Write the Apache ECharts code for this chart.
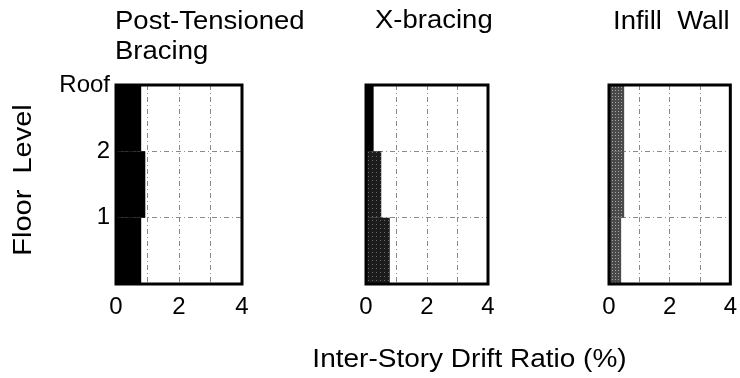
<!DOCTYPE html>
<html>
<head>
<meta charset="utf-8">
<script src="https://cdn.jsdelivr.net/npm/echarts@6/dist/echarts.min.js"></script>
<style>
  html, body { margin: 0; padding: 0; background: #fff; }
  #chart { width: 740px; height: 378px; }
</style>
</head>
<body>
<div id="chart"></div>
<script>
// Stories, bottom to top (each bar spans one storey between floor levels)
const stories = ['1st', '2nd', '3rd'];
// Floor-level tick labels on the vertical axis (value 0..3)
const floorLabels = { 1: '1', 2: '2', 3: 'Roof' };
// Drift-ratio tick labels shown on the horizontal axes
const driftTicks = [0, 2, 4];

// Peak inter-story drift ratio (%) per storey
const postTensioned = [0.80, 0.93, 0.80];
const xBracing = [0.78, 0.50, 0.25];
const infillWall = [0.40, 0.50, 0.50];

const panelTitles = [['Post-Tensioned', 'Bracing'], ['X-bracing'], ['Infill  Wall']];

const FONT = '"Liberation Sans", Arial, Helvetica, sans-serif';

const grids = [
  { left: 116, width: 126 },
  { left: 366, width: 122 },
  { left: 609, width: 122 }
].map(g => ({
  left: g.left, width: g.width, top: 85, height: 199,
  show: true, z: 3, borderColor: '#000', borderWidth: 3, backgroundColor: 'transparent'
}));

const gridLine = { show: true, lineStyle: { color: '#8a8a8a', width: 1, type: [5, 3, 1, 3] } };

const xAxes = grids.map((g, i) => ({
  type: 'value', gridIndex: i, min: 0, max: 4, interval: 1,
  axisLine: { show: false }, axisTick: { show: false },
  splitLine: gridLine,
  axisLabel: {
    margin: 11, fontSize: 24, fontFamily: FONT, color: '#000',
    formatter: v => (driftTicks.indexOf(v) >= 0 ? String(v) : '')
  }
}));

const yAxes = [];
grids.forEach((g, i) => {
  // floor-level value axis (split lines + labels)
  yAxes.push({
    type: 'value', gridIndex: i, min: 0, max: 3, interval: 1,
    axisLine: { show: false }, axisTick: { show: false },
    splitLine: gridLine,
    axisLabel: {
      show: i === 0, margin: 6, fontSize: 24, fontFamily: FONT, color: '#000',
      formatter: v => floorLabels[v] || ''
    }
  });
  // storey category axis used by the bars
  yAxes.push({
    type: 'category', gridIndex: i, data: stories, boundaryGap: true,
    axisLine: { show: false }, axisTick: { show: false },
    axisLabel: { show: false }, splitLine: { show: false }
  });
});

const stipple = (base, dot, gap) => ({
  color: base,
  decal: { symbol: 'rect', symbolSize: 1, color: dot, dashArrayX: [1, gap], dashArrayY: [1, gap], rotation: 0 }
});

const series = [
  {
    type: 'bar', xAxisIndex: 0, yAxisIndex: 1, barCategoryGap: '0%', z: 2,
    data: postTensioned, itemStyle: { color: '#000' }, silent: true
  },
  {
    type: 'bar', xAxisIndex: 1, yAxisIndex: 3, barCategoryGap: '0%', z: 2, silent: true,
    data: xBracing.map((v, k) => ({
      value: v,
      itemStyle: k === 2 ? { color: '#000' } : stipple('#1c1c1c', 'rgba(255,255,255,0.35)', 3)
    }))
  },
  {
    type: 'bar', xAxisIndex: 2, yAxisIndex: 5, barCategoryGap: '0%', z: 2, silent: true,
    data: infillWall, itemStyle: stipple('#4a4a4a', 'rgba(255,255,255,0.5)', 2)
  }
];

const txt = (text, x, y, opts) => Object.assign({
  type: 'text', x: x, y: y, silent: true,
  style: { text: text, font: '25px ' + FONT, fill: '#000', textAlign: 'left', textVerticalAlign: 'middle' }
}, opts || {});

const graphic = [
  txt(panelTitles[0][0], 115, 22.5, { scaleX: 1.1 }),
  txt(panelTitles[0][1], 115, 52.5, { scaleX: 1.1 }),
  txt(panelTitles[1][0], 375, 21.5, { scaleX: 1.1 }),
  txt(panelTitles[2][0], 613, 22, { scaleX: 1.1 }),
  {
    type: 'text', x: 469.5, y: 360, scaleX: 1.12, silent: true,
    style: { text: 'Inter-Story Drift Ratio (%)', font: '25px ' + FONT, fill: '#000', textAlign: 'center', textVerticalAlign: 'middle' }
  },
  {
    type: 'text', x: 24, y: 180, rotation: Math.PI / 2, scaleX: 1.16, silent: true,
    style: { text: 'Floor  Level', font: '25px ' + FONT, fill: '#000', textAlign: 'center', textVerticalAlign: 'middle' }
  }
];

const chart = echarts.init(document.getElementById('chart'), null, { renderer: 'canvas' });
chart.setOption({
  animation: false,
  backgroundColor: '#fff',
  grid: grids,
  xAxis: xAxes,
  yAxis: yAxes,
  series: series,
  graphic: graphic
});
</script>
</body>
</html>
